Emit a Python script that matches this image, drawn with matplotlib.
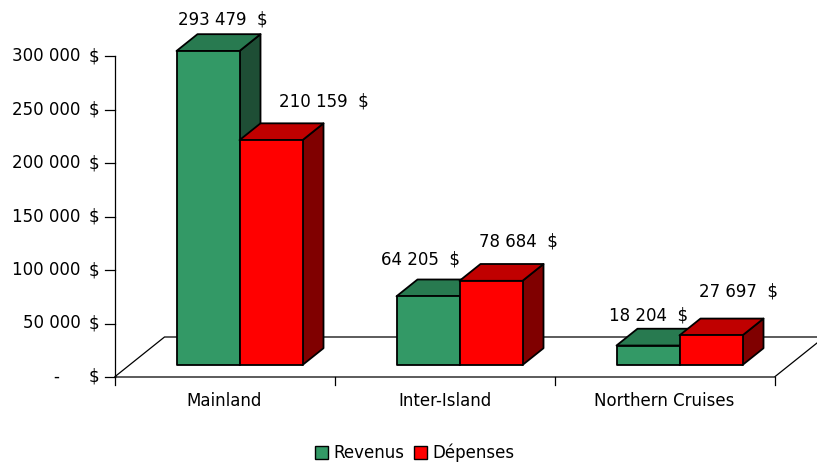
import matplotlib.pyplot as plt
from matplotlib.patches import Polygon, Patch

# revenus / dépenses par secteur
categories = ["Mainland", "Inter-Island", "Northern Cruises"]
revenus = [293479, 64205, 18204]
depenses = [210159, 78684, 27697]
yticks = [0, 50000, 100000, 150000, 200000, 250000, 300000]
series_names = ["Revenus", "Dépenses"]

# couleurs face / dessus / côté
colors = [("#339966", "#287a50", "#1e4e35"), ("#ff0000", "#c00000", "#800000")]

# décalage des étiquettes (px) par rapport au centre du dessus, [série][catégorie]
label_shift = [[(4, 15), (-18, 20), (-10, 13)],
               [(42, 22), (17, 23), (17, 27)]]

plt.rcParams['font.family'] = ['DejaVu Sans']
plt.rcParams['font.size'] = 12

W, H = 817, 462
fig = plt.figure(figsize=(W / 100, H / 100), dpi=100)

# zone du graphique en pixels: origine (114.5, 377), 220 px par catégorie
x0_px, y0_px, ytop_px, cat_px = 114.5, 377, 56, 220
ax = fig.add_axes([x0_px / W, (H - y0_px) / H, 3 * cat_px / W, (y0_px - ytop_px) / H])
ax.set_xlim(0, 3)
ax.set_ylim(0, 300000)
ax.axis('off')

px = 1 / cat_px               # un pixel en unités x
py = 300000 / (y0_px - ytop_px)  # un pixel en unités y

# profondeur du plancher
DX, DY = 50 * px, 40 * py

# plancher
floor = Polygon([(0, 0), (3, 0), (3 + DX, DY), (DX, DY)], closed=True,
                facecolor='white', edgecolor='black', linewidth=0.9, clip_on=False)
ax.add_patch(floor)

# axe vertical et graduations
ax.plot([0, 0], [0, 300000], color='black', lw=0.9, clip_on=False)
for t in yticks:
    ax.plot([-10 * px, 0], [t, t], color='black', lw=0.9, clip_on=False)
    if t == 0:
        ax.text(-58 * px, t, "-", ha='center', va='center')
    else:
        ax.text(-34 * px, t, f"{t:,}".replace(",", " "), ha='right', va='center')
    ax.text(-15 * px, t, "$", ha='right', va='center')

for i in range(4):
    ax.plot([i, i], [0, -8 * py], color='black', lw=0.9, clip_on=False)
for i, c in enumerate(categories):
    ax.text(i + 0.5, -24 * py, c, ha='center', va='center')

# barres 3D
f0, depth = 0.3, 0.42
bw = 63 * px
gap = (1 - 2 * bw) / 2

for i in range(len(categories)):
    for k, vals in enumerate([revenus, depenses]):
        v = vals[i]
        face, top, side = colors[k]
        x = i + gap + k * bw + f0 * DX
        y = f0 * DY
        ddx, ddy = depth * DX, depth * DY
        front = [(x, y), (x + bw, y), (x + bw, y + v), (x, y + v)]
        topf = [(x, y + v), (x + bw, y + v), (x + bw + ddx, y + v + ddy), (x + ddx, y + v + ddy)]
        sidef = [(x + bw, y), (x + bw + ddx, y + ddy), (x + bw + ddx, y + v + ddy), (x + bw, y + v)]
        for pts, fc in [(sidef, side), (topf, top), (front, face)]:
            ax.add_patch(Polygon(pts, closed=True, facecolor=fc, edgecolor='black',
                                 linewidth=1.3, joinstyle='round', clip_on=False))
        label = f"{v:,}".replace(",", " ") + "  $"
        sx, sy = label_shift[k][i]
        ax.text(x + bw / 2 + ddx / 2 + sx * px, y + v + ddy + sy * py, label,
                ha='center', va='center')

handles = [Patch(facecolor=colors[k][0], edgecolor='black', linewidth=1.0) for k in range(2)]
fig.legend(handles, series_names, loc='center', bbox_to_anchor=(415 / W, 1 - 453 / H),
           ncol=2, frameon=False, handlelength=0.75, handleheight=0.75,
           handletextpad=0.35, columnspacing=0.6)

fig.savefig("out.png", dpi=100)
